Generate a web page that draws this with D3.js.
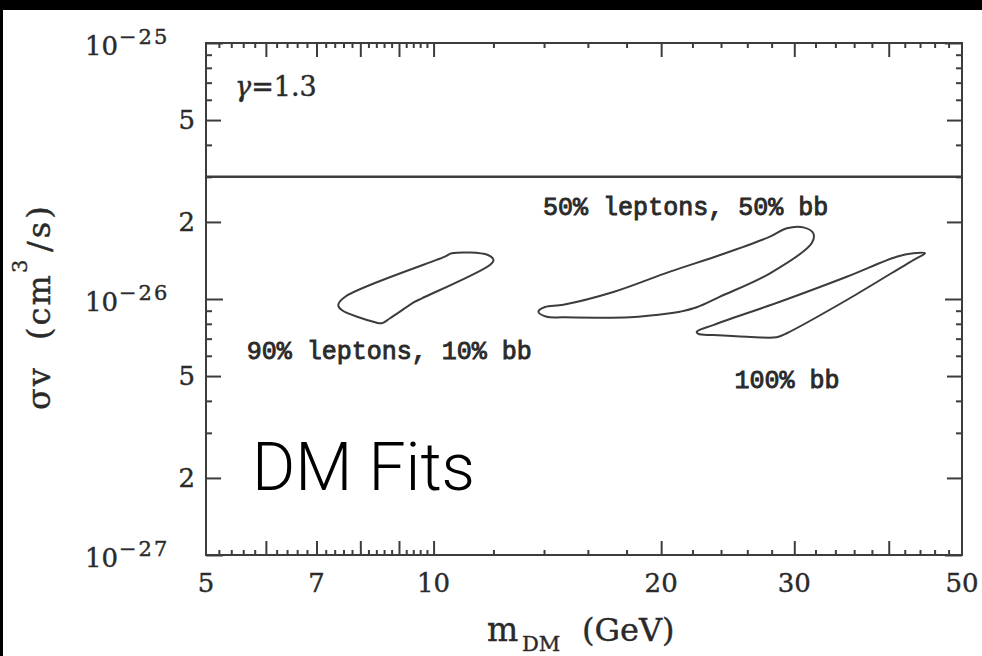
<!DOCTYPE html>
<html><head><meta charset="utf-8">
<script src="https://cdn.jsdelivr.net/npm/d3@7"></script>
<style>body{margin:0;background:#fff;} svg{display:block}</style>
</head><body><svg id="c" width="982" height="656"></svg>
<script>
// ---- data ----
const xDomain = [5, 50];          // m_DM (GeV)
const yDomain = [1e-27, 1e-25];   // sigma v (cm^3/s)
const xTickLabels = [5, 7, 10, 20, 30, 50];
const xMajorTicks = [6, 7, 8, 9, 10, 20, 30, 40];
const xMinorTicks = [5.2,5.4,5.6,5.8,6.2,6.4,6.6,6.8,7.2,7.4,7.6,7.8,8.2,8.4,8.6,8.8,9.2,9.4,9.6,9.8,
                     12,14,16,18,22,24,26,28,32,34,36,38,42,44,46,48];
const yDecadeTicks = [1e-27, 1e-26, 1e-25];
const yDecadeExp = ["\u221227", "\u221226", "\u221225"];
const yMidTicks = [2e-27, 5e-27, 2e-26, 5e-26];
const yMidLabels = ["2", "5", "2", "5"];
const yMinorTicks = [3e-27,4e-27,6e-27,7e-27,8e-27,9e-27,3e-26,4e-26,6e-26,7e-26,8e-26,9e-26];
const relicValue = 3e-26;

// contours: [m_DM (GeV), sigma v (cm^3/s)]
const contour90 = [[7.48,9.47e-27],[7.64,1.021e-26],[10.35,1.463e-26],[10.57,1.508e-26],[11.80,1.485e-26],
  [12.0,1.420e-26],[11.87,1.358e-26],[9.65,1.006e-26],[9.45,9.76e-27],[8.76,8.41e-27],[8.54,8.04e-27],
  [8.37,8.11e-27],[7.56,9.06e-27]];
const contour50 = [[13.76,8.92e-27],[14.04,9.31e-27],[14.85,9.50e-27],[17.29,1.065e-26],[20.55,1.279e-26],
  [23.93,1.485e-26],[27.86,1.752e-26],[29.32,1.889e-26],[30.84,1.905e-26],[31.79,1.805e-26],[31.63,1.650e-26],
  [27.86,1.260e-26],[23.93,1.021e-26],[22.29,9.28e-27],[21.18,8.92e-27],[20.55,8.79e-27],[18.19,8.48e-27],
  [14.85,8.48e-27],[14.11,8.53e-27]];
const contour100 = [[22.29,7.45e-27],[23.44,7.91e-27],[28.72,9.76e-27],[35.20,1.222e-26],[40.98,1.463e-26],
  [43.11,1.508e-26],[44.67,1.508e-26],[43.11,1.420e-26],[35.20,9.91e-27],[29.32,7.35e-27],[28.43,7.09e-27],
  [25.96,7.12e-27],[23.44,7.23e-27],[22.40,7.30e-27]];
const contourLabels = ["90% leptons, 10% bb", "50% leptons, 50% bb", "100% bb"];
const contourLabelAnchors = [[5.66, 5.83e-27], [13.96, 2.13e-26], [25.0, 4.49e-27]];

// ---- layout ----
const svg = d3.select("#c");
const L = 206, T = 43, W = 756, H = 512;
const x = d3.scaleLog().domain(xDomain).range([L, L + W]);
const y = d3.scaleLog().domain(yDomain).range([T + H, T]);
const ink = "#3c3c3c";
const txt = "#2a2a2a";

svg.append("rect").attr("x",0).attr("y",0).attr("width",982).attr("height",656).attr("fill","#fff");

function tickAxis(axisFn, vals, size, transform) {
  const g = svg.append("g").attr("transform", transform)
    .call(axisFn.tickValues(vals).tickSize(-size).tickFormat(""));
  g.select(".domain").remove();
  g.selectAll("line").attr("stroke", ink).attr("stroke-width", 2);
}
tickAxis(d3.axisBottom(x), xMajorTicks, 14, `translate(0,${T+H})`);
tickAxis(d3.axisBottom(x), xMinorTicks, 5, `translate(0,${T+H})`);
tickAxis(d3.axisTop(x), xMajorTicks, 14, `translate(0,${T})`);
tickAxis(d3.axisTop(x), xMinorTicks, 5, `translate(0,${T})`);
tickAxis(d3.axisLeft(y), yDecadeTicks, 17, `translate(${L},0)`);
tickAxis(d3.axisLeft(y), yMidTicks, 15, `translate(${L},0)`);
tickAxis(d3.axisLeft(y), yMinorTicks, 6, `translate(${L},0)`);
tickAxis(d3.axisRight(y), yDecadeTicks, 17, `translate(${L+W},0)`);
tickAxis(d3.axisRight(y), yMidTicks, 15, `translate(${L+W},0)`);
tickAxis(d3.axisRight(y), yMinorTicks, 6, `translate(${L+W},0)`);

svg.append("rect").attr("x", L).attr("y", T).attr("width", W).attr("height", H)
  .attr("fill","none").attr("stroke", ink).attr("stroke-width", 2);

svg.append("line").attr("x1", x(xDomain[0])).attr("x2", x(xDomain[1]))
  .attr("y1", y(relicValue)).attr("y2", y(relicValue))
  .attr("stroke", ink).attr("stroke-width", 2.5);

const line = d3.line().x(d => x(d[0])).y(d => y(d[1])).curve(d3.curveCatmullRomClosed.alpha(0.5));
[contour90, contour50, contour100].forEach(c => {
  svg.append("path").attr("d", line(c)).attr("fill","none").attr("stroke", ink)
    .attr("stroke-width", 2).attr("stroke-linejoin","round");
});

contourLabels.forEach((t, i) => {
  svg.append("text").attr("x", x(contourLabelAnchors[i][0])).attr("y", y(contourLabelAnchors[i][1]))
    .attr("font-family", "Liberation Mono, monospace").attr("font-size", 25)
    .attr("fill", txt).attr("stroke", txt).attr("stroke-width", 0.9).text(t);
});

const serif = "DejaVu Serif, serif";
function sText(sel) { return sel.attr("fill", txt).attr("stroke", txt).attr("stroke-width", 0.4); }
xTickLabels.forEach(v => {
  sText(svg.append("text").attr("x", x(v)).attr("y", T + H + 37).attr("text-anchor","middle")
    .attr("font-family", serif).attr("font-size", 26)).text(v);
});
yDecadeTicks.forEach((v, i) => {
  const t = sText(svg.append("text").attr("font-family", serif));
  t.append("tspan").attr("x", 85).attr("y", y(v) + 12).attr("font-size", 26).text("10");
  t.append("tspan").attr("x", 119).attr("y", y(v) + 1).attr("font-size", 21).attr("letter-spacing", 2)
    .text(yDecadeExp[i]);
});
yMidTicks.forEach((v, i) => {
  sText(svg.append("text").attr("x", 195).attr("y", y(v) + 9).attr("text-anchor","end")
    .attr("font-family", serif).attr("font-size", 26)).text(yMidLabels[i]);
});

const g1 = sText(svg.append("text").attr("x", 235).attr("y", 96).attr("font-family", serif)
  .attr("font-size", 27));
g1.append("tspan").attr("font-style","italic").text("\u03b3");
g1.append("tspan").text("=1.3");

const xt = sText(svg.append("g").attr("font-family", serif));
xt.append("text").attr("x", 487).attr("y", 641).attr("font-size", 33).text("m");
xt.append("text").attr("x", 522).attr("y", 651).attr("font-size", 21).text("DM");
xt.append("text").attr("x", 582).attr("y", 641).attr("font-size", 32).text("(GeV)");

const yt = sText(svg.append("g").attr("transform", "translate(50,410) rotate(-90)")
  .attr("font-family", serif));
yt.append("text").attr("x", 0).attr("y", 0).attr("font-size", 32).attr("letter-spacing", 2).text("\u03c3v");
yt.append("text").attr("x", 70).attr("y", 0).attr("font-size", 32).attr("letter-spacing", 2).text("(cm");
yt.append("text").attr("x", 137).attr("y", -23).attr("font-size", 21).text("3");
yt.append("text").attr("x", 158).attr("y", 0).attr("font-size", 32).attr("letter-spacing", 3).text("/s)");

svg.append("text").attr("x", 252).attr("y", 490).attr("font-family", "Roboto, sans-serif")
  .attr("font-weight", 300).attr("font-size", 66).attr("fill", "#000").text("DM Fits");

svg.append("rect").attr("x",0).attr("y",0).attr("width",982).attr("height",10).attr("fill","#000");
svg.append("rect").attr("x",0).attr("y",0).attr("width",3).attr("height",656).attr("fill","#000");
</script></body></html>
